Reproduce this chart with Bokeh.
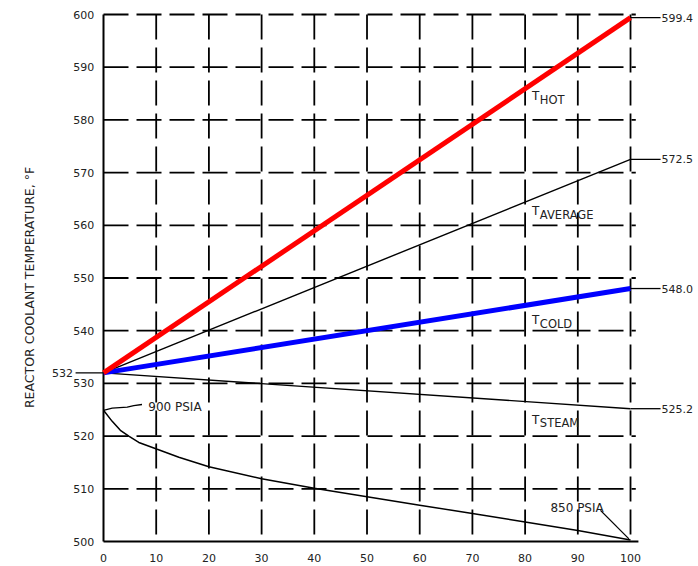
import math
from bokeh.plotting import figure
from bokeh.models import Range1d
from bokeh.core.properties import value
from bokeh.embed import file_html
from bokeh.resources import INLINE

# ---------------- data ----------------
power = [0, 100]
t_hot = [532.0, 599.4]
t_avg = [532.0, 572.5]
t_cold = [532.0, 548.0]
t_steam = [532.0, 525.2]

sat_power = [0, 1.65, 3.2, 4.8, 6.7, 10.2, 14.3, 20, 30, 40, 50, 60, 70, 80, 90, 100]
sat_temp = [524.9, 522.8, 521.1, 520.0, 518.8, 517.5, 516.0, 514.2, 511.9,
            510.1, 508.5, 506.9, 505.3, 503.7, 502.1, 500.3]

x_ticks = [0, 10, 20, 30, 40, 50, 60, 70, 80, 90, 100]
y_ticks = [500, 510, 520, 530, 540, 550, 560, 570, 580, 590, 600]

start_value = 532
end_values = [599.4, 572.5, 548.0, 525.2]
end_labels = ["599.4", "572.5", "548.0", "525.2"]

series_subs = ["HOT", "AVERAGE", "COLD", "STEAM"]
pressure_labels = ["900 PSIA", "850 PSIA"]
y_title = "REACTOR COOLANT TEMPERATURE, \u00b0F"

# ---------------- figure ----------------
FONT = value("DejaVu Sans")
BLACK = "#000000"
TXT = "#222222"

p = figure(width=698, height=566, output_backend="svg", toolbar_location=None,
           x_axis_location=None, y_axis_location=None,
           x_range=Range1d(-19.545, 112.90), y_range=Range1d(495.257, 602.657),
           min_border=0, outline_line_color=None,
           background_fill_color="white", border_fill_color="white")
p.grid.visible = False

# dashed grid
vx = [t for t in x_ticks if t > x_ticks[0]]
p.segment(x0=vx, y0=[y_ticks[-1]] * len(vx), x1=vx, y1=[y_ticks[0]] * len(vx),
          line_color=BLACK, line_width=1.8, line_dash="25 8")
hy = [t for t in y_ticks if t > y_ticks[0]]
p.segment(x0=[x_ticks[0]] * len(hy), y0=hy, x1=[x_ticks[-1] + 1] * len(hy), y1=hy,
          line_color=BLACK, line_width=1.8, line_dash="25 8")

# axes lines
p.line([x_ticks[0], x_ticks[0]], [y_ticks[0], y_ticks[-1]], line_color=BLACK, line_width=2)
p.line([x_ticks[0], x_ticks[-1] + 1.5], [y_ticks[0], y_ticks[0]], line_color=BLACK, line_width=2)

# tick labels
p.text(x=x_ticks, y=[y_ticks[0] - 3.04] * len(x_ticks), text=[str(t) for t in x_ticks],
       text_font=FONT, text_font_size=value("11px"), text_align="center",
       text_baseline="middle", text_color=TXT)
p.text(x=[-1.75] * len(y_ticks), y=y_ticks, text=[str(t) for t in y_ticks],
       text_font=FONT, text_font_size=value("11px"), text_align="right",
       text_baseline="middle", text_color=TXT)

# y title
p.text(x=[-14.0], y=[548.2], text=[y_title], angle=math.pi / 2,
       text_font=FONT, text_font_size=value("12.5px"), text_align="center",
       text_baseline="middle", text_color=TXT)

# saturation curve
p.line(sat_power, sat_temp, line_color=BLACK, line_width=1.5)

# temperature lines
p.line(power, t_steam, line_color=BLACK, line_width=1.4)
p.line(power, t_avg, line_color=BLACK, line_width=1.4)
p.line(power, t_cold, line_color="#0000ff", line_width=5)
p.line(power, t_hot, line_color="#ff0000", line_width=5)

# end-value leaders and labels
p.segment(x0=[power[-1]] * len(end_values), y0=end_values,
          x1=[105.7] * len(end_values), y1=end_values, line_color=BLACK, line_width=1.3)
p.text(x=[105.9] * len(end_values), y=end_values, text=end_labels,
       text_font=FONT, text_font_size=value("11px"), text_align="left",
       text_baseline="middle", text_color=TXT)

# start value leader and label
p.segment(x0=[-5.3], y0=[start_value], x1=[power[0]], y1=[start_value],
          line_color=BLACK, line_width=1.3)
p.text(x=[-5.8], y=[start_value], text=[str(start_value)],
       text_font=FONT, text_font_size=value("11px"), text_align="right",
       text_baseline="middle", text_color=TXT)

# series labels T + subscript
sub_y = [583.8, 562.0, 541.3, 522.4]
p.text(x=[81.3] * 4, y=[v + 0.7 for v in sub_y], text=["T"] * 4,
       text_font=FONT, text_font_size=value("12px"), text_align="left",
       text_baseline="middle", text_color=TXT)
p.text(x=[82.8] * 4, y=sub_y, text=series_subs,
       text_font=FONT, text_font_size=value("11.5px"), text_align="left",
       text_baseline="middle", text_color=TXT)

# pressure annotations
p.line([0, 1.65, 4.5, 5.75, 7.3], [524.9, 525.3, 525.5, 525.8, 526.0],
       line_color=BLACK, line_width=1.3)
p.line([94.3, 99.7], [505.9, 500.5], line_color=BLACK, line_width=1.3)
p.text(x=[8.5, 84.8], y=[525.5, 506.45], text=pressure_labels,
       text_font=FONT, text_font_size=value("12px"), text_align="left",
       text_baseline="middle", text_color=TXT)

open("out.html", "w").write(file_html(p, INLINE))
